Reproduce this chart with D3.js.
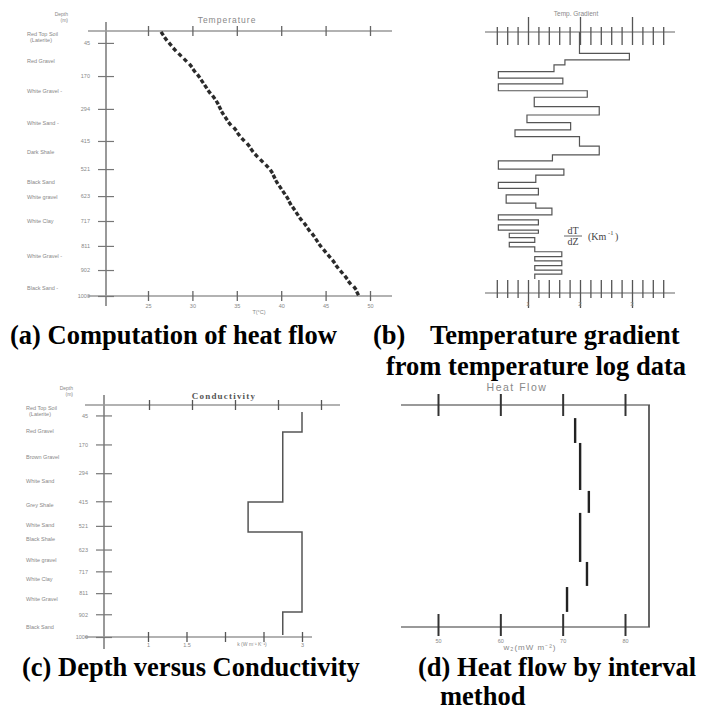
<!DOCTYPE html>
<html>
<head>
<meta charset="utf-8">
<script src="https://cdn.jsdelivr.net/npm/d3@7"></script>
<style>
body { margin: 0; background: #fff; }
svg { display: block; }
.cap { font-family: "Liberation Serif", "Times New Roman", serif; font-weight: bold; font-size: 26.5px; fill: #000; }
.sm { font-family: "Liberation Sans", Arial, sans-serif; fill: #888; }
</style>
</head>
<body>
<script>
// ---- data ----
// depth ticks (m), shared by panels a and c
var depthTicks = [45, 170, 294, 415, 521, 623, 717, 811, 902, 1000];

// lithology labels
var rockNamesA = ["Red Top Soil|(Laterite)", "Red Gravel", "White Gravel -", "White Sand -", "Dark Shale", "Black Sand", "White gravel", "White Clay", "White Gravel -", "Black Sand -"];
var rockDepthA = [15, 117, 230, 350, 460, 570, 630, 720, 850, 970];
var rockNamesC = ["Red Top Soil|(Laterite)", "Red Gravel", "Brown Gravel", "White Sand", "Grey Shale", "White Sand", "Black Shale", "White gravel", "White Clay", "White Gravel", "Black Sand"];
var rockDepthC = [17, 116, 228, 332, 435, 520, 580, 672, 754, 840, 960];

// (a) temperature log
var tempDepth = [10, 30, 50, 70, 90, 110, 130, 150, 170, 190, 210, 230, 250, 270, 290, 310, 330, 350, 370, 390,
  410, 430, 450, 470, 490, 510, 530, 550, 570, 590, 610, 630, 650, 670, 690, 710, 730, 750, 770, 790,
  810, 830, 850, 870, 890, 910, 930, 950, 970, 990];
var tempValue = [26.6, 27.0, 27.5, 28.0, 28.6, 29.2, 29.8, 30.2, 30.7, 31.1, 31.5, 31.9, 32.4, 32.8, 33.1, 33.4, 33.8, 34.2, 34.8, 35.2,
  35.7, 36.3, 36.7, 37.2, 37.8, 38.4, 38.9, 39.2, 39.5, 39.9, 40.3, 40.7, 41.0, 41.4, 41.8, 42.2, 42.7, 43.1, 43.6, 44.0,
  44.4, 44.9, 45.4, 45.9, 46.3, 46.8, 47.3, 47.7, 48.3, 48.6];
var tempTicks = [25, 30, 35, 40, 45, 50];

// (b) temperature gradient per interval
var gradTop = [0, 82, 107, 126, 152, 177, 199, 225, 250, 286, 318, 347, 375, 401, 437, 471, 494, 525, 548, 576,
  599, 624, 656, 675, 701, 720, 739, 759, 771, 788, 806, 823, 842, 861, 877, 895, 912, 928];
var gradBottomEnd = 946;
var gradValue = [1.99, 2.95, 1.71, 1.50, 0.43, 1.67, 0.43, 2.14, 1.12, 2.37, 0.98, 1.82, 0.75, 1.99, 2.37, 1.47, 0.43, 1.69, 1.15, 0.43,
  1.20, 0.58, 1.15, 1.46, 0.43, 1.20, 0.43, 1.20, 0.64, 1.13, 0.64, 1.13, 1.65, 1.13, 1.65, 1.13, 1.65, 1.13];
var gradMajor = [1, 2, 3];

// (c) conductivity per interval
var condTop = [30, 116, 418, 547, 892];
var condBottomEnd = 991;
var condValue = [3.0, 2.75, 2.3, 3.0, 2.75];
var condTicks = [1, 1.5, 2, 2.5, 3];
var condTickLabels = ["1", "1.5", "", "", "3"];

// (d) heat flow by interval
var flowTop = [59, 171, 387, 486, 707, 820];
var flowBottom = [171, 383, 486, 707, 815, 932];
var flowValue = [72.0, 72.8, 74.2, 72.8, 73.9, 70.7];
var flowTicks = [50, 60, 70, 80];

var svg = d3.select('body').append('svg').attr('width', 707).attr('height', 711);

// helpers
function hline(g, x1, x2, y, col, w) {
  g.append('line').attr('x1', x1).attr('x2', x2).attr('y1', y).attr('y2', y)
    .attr('stroke', col).attr('stroke-width', w);
}
function vline(g, x, y1, y2, col, w) {
  g.append('line').attr('x1', x).attr('x2', x).attr('y1', y1).attr('y2', y2)
    .attr('stroke', col).attr('stroke-width', w);
}
function styleAxis(sel, col, w) {
  sel.select('.domain').remove();
  sel.selectAll('.tick line').attr('stroke', col).attr('stroke-width', w);
  sel.selectAll('.tick text').attr('class', 'sm').attr('font-size', 5.5).attr('fill', '#888');
}
function depthAxis(g, y, x) {
  var ax = g.append('g').attr('transform', 'translate(' + x + ',0)')
    .call(d3.axisLeft(y).tickValues(depthTicks).tickSize(0).tickPadding(16).tickFormat(d3.format('d')));
  styleAxis(ax, '#777', 1.2);
  ax.selectAll('.tick line').attr('x1', -8).attr('x2', 8);
}
function rockLabels(g, y, names, depths, x) {
  names.forEach(function(n, i) {
    n.split('|').forEach(function(part, j) {
      g.append('text').attr('class', 'sm').attr('font-size', 5.5)
        .attr('x', x + j * 3).attr('y', y(depths[i]) + j * 6)
        .attr('dominant-baseline', 'middle').text(part);
    });
  });
}
function depthHeader(g, x, y) {
  g.append('text').attr('class', 'sm').attr('font-size', 5).attr('text-anchor', 'end')
    .attr('x', x).attr('y', y).text('Depth');
  g.append('text').attr('class', 'sm').attr('font-size', 5).attr('text-anchor', 'end')
    .attr('x', x).attr('y', y + 6).text('(m)');
}
function stepPoints(values, tops, endDepth) {
  var pts = [];
  values.forEach(function(v, i) {
    var bot = i < tops.length - 1 ? tops[i + 1] : endDepth;
    pts.push([v, tops[i]]);
    pts.push([v, bot]);
  });
  return pts;
}

// ---------- (a) Computation of heat flow ----------
var gA = svg.append('g');
var yA = d3.scaleLinear().domain([0, 1000]).range([31, 296]);
var xA = d3.scaleLinear().domain([25, 50]).range([148, 370]);

hline(gA, 88, 392, yA(0), '#999', 1.5);
hline(gA, 88, 392, yA(1000), '#999', 1.5);
vline(gA, 106, 22, 306, '#999', 2);
depthAxis(gA, yA, 106);
depthHeader(gA, 68, 16);
rockLabels(gA, yA, rockNamesA, rockDepthA, 27);

var topA = gA.append('g').attr('transform', 'translate(0,' + yA(0) + ')')
  .call(d3.axisTop(xA).tickValues(tempTicks).tickSize(0).tickFormat(''));
styleAxis(topA, '#666', 1.3);
topA.selectAll('.tick line').attr('y1', -5).attr('y2', 5);
var botA = gA.append('g').attr('transform', 'translate(0,' + yA(1000) + ')')
  .call(d3.axisBottom(xA).tickValues(tempTicks).tickSize(0).tickPadding(8));
styleAxis(botA, '#666', 1.3);
botA.selectAll('.tick line').attr('y1', -5).attr('y2', 5);
gA.append('text').attr('class', 'sm').attr('font-size', 5.5).attr('text-anchor', 'middle')
  .attr('x', xA(37.5)).attr('y', 314).text('T(°C)');
gA.append('text').attr('class', 'sm').attr('font-size', 8.5).attr('letter-spacing', 1).attr('text-anchor', 'middle')
  .attr('x', 227).attr('y', 23).text('Temperature');

var tempPts = tempDepth.map(function(d, i) { return [xA(tempValue[i]), yA(d)]; });
gA.selectAll('rect.dot').data(tempPts).enter().append('rect')
  .attr('class', 'dot')
  .attr('x', -2.1).attr('y', -1.7).attr('width', 4.2).attr('height', 3.4)
  .attr('fill', '#2a2a2a')
  .attr('transform', function(p, i) {
    var a = tempPts[Math.min(i + 1, tempPts.length - 1)], b = tempPts[Math.max(i - 1, 0)];
    var ang = Math.atan2(a[1] - b[1], a[0] - b[0]) * 180 / Math.PI;
    return 'translate(' + p[0] + ',' + p[1] + ') rotate(' + ang + ')';
  });

// ---------- (b) Temperature gradient ----------
var gB = svg.append('g');
var yB = d3.scaleLinear().domain([0, 1000]).range([32, 293]);
var xB = d3.scaleLinear().domain([1, 3]).range([528, 632]);
var gradMinor = d3.range(2, 19).map(function(i) { return i / 5; });
function isMajor(d) { return gradMajor.indexOf(Math.round(d * 5) / 5) >= 0; }

hline(gB, 485, 675, yB(0), '#999', 1.3);
hline(gB, 485, 675, yB(1000), '#999', 1.3);
var topB = gB.append('g').attr('transform', 'translate(0,' + yB(0) + ')')
  .call(d3.axisTop(xB).tickValues(gradMinor).tickSize(0).tickFormat(''));
styleAxis(topB, '#555', 1.3);
topB.selectAll('.tick line').attr('y1', function(d) { return isMajor(d) ? -15 : -5; }).attr('y2', 13);
var botB = gB.append('g').attr('transform', 'translate(0,' + yB(1000) + ')')
  .call(d3.axisBottom(xB).tickValues(gradMinor).tickSize(0).tickFormat(''));
styleAxis(botB, '#555', 1.3);
botB.selectAll('.tick line').attr('y1', -13).attr('y2', function(d) { return isMajor(d) ? 15 : 5; });
gB.selectAll('text.gl').data(gradMajor).enter().append('text')
  .attr('class', 'sm gl').attr('font-size', 6).attr('text-anchor', 'middle')
  .attr('x', function(d) { return xB(d); }).attr('y', yB(1000) + 13).text(function(d) { return d; });
gB.append('text').attr('class', 'sm').attr('font-size', 6.5).attr('text-anchor', 'middle')
  .attr('x', 576).attr('y', 16).text('Temp. Gradient');

var lineB = d3.line().x(function(p) { return xB(p[0]); }).y(function(p) { return yB(p[1]); });
gB.append('path').datum(stepPoints(gradValue, gradTop, gradBottomEnd))
  .attr('d', lineB).attr('fill', 'none').attr('stroke', '#555').attr('stroke-width', 1.2);

var fr = gB.append('g').attr('font-family', 'Liberation Serif, serif').attr('fill', '#444');
fr.append('text').attr('font-size', 10).attr('text-anchor', 'middle').attr('x', 573).attr('y', 234).text('dT');
hline(fr, 564, 582, 236, '#555', 0.9);
fr.append('text').attr('font-size', 10).attr('text-anchor', 'middle').attr('x', 573).attr('y', 245).text('dZ');
fr.append('text').attr('font-size', 10).attr('x', 588).attr('y', 240).text('(Km');
fr.append('text').attr('font-size', 6.5).attr('x', 608).attr('y', 235).text('-1');
fr.append('text').attr('font-size', 10).attr('x', 615).attr('y', 240).text(')');

// ---------- (c) Depth versus Conductivity ----------
var gC = svg.append('g');
var yC = d3.scaleLinear().domain([0, 1000]).range([405, 637]);
var xC = d3.scaleLinear().domain([1, 3]).range([148, 302]);
var xCt = d3.scaleLinear().domain([1, 3]).range([149, 321]);

hline(gC, 85, 340, yC(0), '#999', 1.5);
hline(gC, 85, 312, yC(1000), '#999', 1.5);
vline(gC, 104, 395, 649, '#999', 2);
depthAxis(gC, yC, 104);
depthHeader(gC, 73, 390);
rockLabels(gC, yC, rockNamesC, rockDepthC, 26);

var topC = gC.append('g').attr('transform', 'translate(0,' + yC(0) + ')')
  .call(d3.axisTop(xCt).tickValues(condTicks).tickSize(0).tickFormat(''));
styleAxis(topC, '#555', 1.3);
topC.selectAll('.tick line').attr('y1', -5).attr('y2', 5);
var botC = gC.append('g').attr('transform', 'translate(0,' + yC(1000) + ')')
  .call(d3.axisBottom(xC).tickValues(condTicks).tickSize(0).tickPadding(6)
    .tickFormat(function(d, i) { return condTickLabels[i]; }));
styleAxis(botC, '#555', 1.3);
botC.selectAll('.tick line').attr('y1', -5).attr('y2', 5);
gC.append('text').attr('class', 'sm').attr('font-size', 5).attr('text-anchor', 'middle')
  .attr('x', 252).attr('y', 646).text('k (W m⁻¹ K⁻¹)');
gC.append('text').attr('font-family', 'Liberation Serif, serif').attr('font-weight', 'bold')
  .attr('font-size', 9).attr('letter-spacing', 1.2).attr('fill', '#555').attr('text-anchor', 'middle')
  .attr('x', 224).attr('y', 399).text('Conductivity');

var lineC = d3.line().x(function(p) { return xC(p[0]); }).y(function(p) { return yC(p[1]); });
gC.append('path').datum(stepPoints(condValue, condTop, condBottomEnd))
  .attr('d', lineC).attr('fill', 'none').attr('stroke', '#555').attr('stroke-width', 1.5);

// ---------- (d) Heat flow by interval ----------
var gD = svg.append('g');
var yD = d3.scaleLinear().domain([0, 1000]).range([405, 627]);
var xD = d3.scaleLinear().domain([50, 80]).range([438, 625]);

hline(gD, 401, 650, yD(0), '#999', 1.8);
hline(gD, 401, 650, yD(1000), '#999', 1.8);
vline(gD, 649, yD(0), yD(1000), '#555', 1.8);
[yD(0), yD(1000)].forEach(function(yy, k) {
  var ax = gD.append('g').attr('transform', 'translate(0,' + yy + ')')
    .call(d3.axisBottom(xD).tickValues(flowTicks).tickSize(0).tickPadding(12)
      .tickFormat(k === 0 ? '' : d3.format('d')));
  styleAxis(ax, '#333', 2);
  ax.selectAll('.tick line').attr('y1', k === 0 ? -11 : -13).attr('y2', k === 0 ? 11 : 9);
  ax.selectAll('.tick text').attr('font-size', 5.5);
});
gD.append('text').attr('class', 'sm').attr('font-size', 10.5).attr('letter-spacing', 1.5).attr('fill', '#777')
  .attr('text-anchor', 'middle').attr('x', 517).attr('y', 391).text('Heat Flow');
gD.append('text').attr('class', 'sm').attr('font-size', 8).attr('letter-spacing', 1).attr('fill', '#777')
  .attr('text-anchor', 'middle').attr('x', 530).attr('y', 650).text('w₂(mW m⁻²)');

gD.selectAll('line.seg').data(flowValue).enter().append('line')
  .attr('class', 'seg')
  .attr('x1', function(d) { return xD(d); }).attr('x2', function(d) { return xD(d); })
  .attr('y1', function(d, i) { return yD(flowTop[i]); })
  .attr('y2', function(d, i) { return yD(flowBottom[i]); })
  .attr('stroke', '#222').attr('stroke-width', 2.4);

// ---------- captions ----------
var caps = [
  ['(a) Computation of heat flow', 10, 344],
  ['(b)', 373, 344],
  ['Temperature gradient', 430, 344],
  ['from temperature log data', 386, 375],
  ['(c) Depth versus Conductivity', 22, 676],
  ['(d) Heat flow by interval', 418, 676],
  ['method', 440, 705]
];
svg.selectAll('text.cap').data(caps).enter().append('text')
  .attr('class', 'cap')
  .attr('x', function(d) { return d[1]; }).attr('y', function(d) { return d[2]; })
  .text(function(d) { return d[0]; });
</script>
</body>
</html>
